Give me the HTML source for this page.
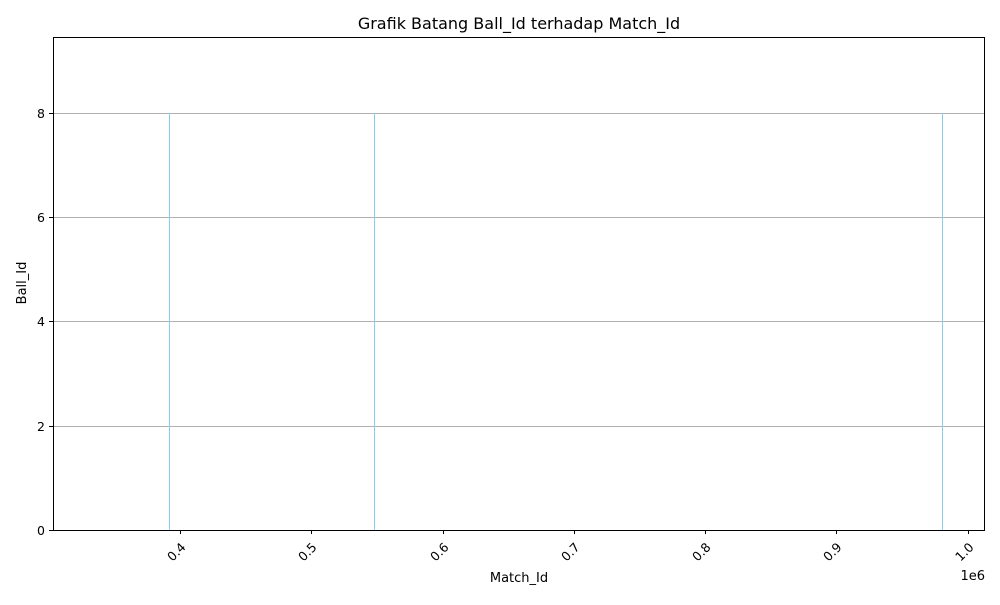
<!DOCTYPE html>
<html><head><meta charset="utf-8"><style>
body{margin:0;background:#fff;}
svg{font-family:"DejaVu Sans","Liberation Sans",sans-serif;}
</style></head><body>
<svg width="1000" height="600">
<rect width="1000" height="600" fill="#fff"/>
<text x="519" y="29" text-anchor="middle" font-size="16">Grafik Batang Ball_Id terhadap Match_Id</text>
<g id="grid" shape-rendering="crispEdges"></g>
<g id="bars" shape-rendering="crispEdges"></g>
<rect x="53.5" y="37.5" width="931" height="493" fill="none" stroke="#000" stroke-width="1" shape-rendering="crispEdges"/>
<g id="axes"></g>
<text x="519" y="582" text-anchor="middle" font-size="13">Match_Id</text>
<text x="0" y="0" transform="translate(26,283) rotate(-90)" text-anchor="middle" font-size="13">Ball_Id</text>
<text x="985" y="580" text-anchor="end" font-size="13">1e6</text>
</svg>
<script>
const matchIds=[391600,548100,980300];
const ballIds=[8,8,8];
const xTicks=[0.4,0.5,0.6,0.7,0.8,0.9,1.0];
const xTickLabels=["0.4","0.5","0.6","0.7","0.8","0.9","1.0"];
const yTicks=[0,2,4,6,8];
const ns="http://www.w3.org/2000/svg";
const L=53,R=985,T=37,B=530;
const xmin=303300,xmax=1013100,ymax=9.455;
const xs=v=>L+(v-xmin)/(xmax-xmin)*(R-L);
const ys=v=>B-v/ymax*(B-T);
function mk(tag,attrs,parent){const e=document.createElementNS(ns,tag);for(const k in attrs)e.setAttribute(k,attrs[k]);parent.appendChild(e);return e;}
const grid=document.getElementById('grid'),bars=document.getElementById('bars'),axes=document.getElementById('axes');
yTicks.forEach(t=>{
 const y=Math.round(ys(t))+0.5;
 if(t>0){
 const g=mk('line',{x1:L,x2:R,y1:y,y2:y,stroke:'#b0b0b0','stroke-width':1},grid);
 
 
 }
 const tk=mk('line',{x1:L-4,x2:L,y1:y,y2:y,stroke:'#000'},axes);
 
 
 const tx=mk('text',{x:L-8,y:y+4.5,'text-anchor':'end','font-size':12.5},axes);
 tx.textContent=t;
 
 
});
matchIds.forEach((m,i)=>{
 const x=Math.round(xs(m));
 const b=mk('rect',{x:x,y:ys(ballIds[i]),width:1,height:B-ys(ballIds[i]),fill:'#87ceeb'},bars);
 
 
});
xTicks.forEach((t,i)=>{
 const x=Math.round(xs(t*1e6))+0.5;
 const tk=mk('line',{x1:x,x2:x,y1:B,y2:B+4,stroke:'#000'},axes);
 
 
 const tx=mk('text',{x:0,y:0,'text-anchor':'middle','font-size':12.5,transform:`translate(${x-1},${B+25}) rotate(-45)`},axes);
 tx.textContent=xTickLabels[i];
 
 
});
</script>
</body></html>
